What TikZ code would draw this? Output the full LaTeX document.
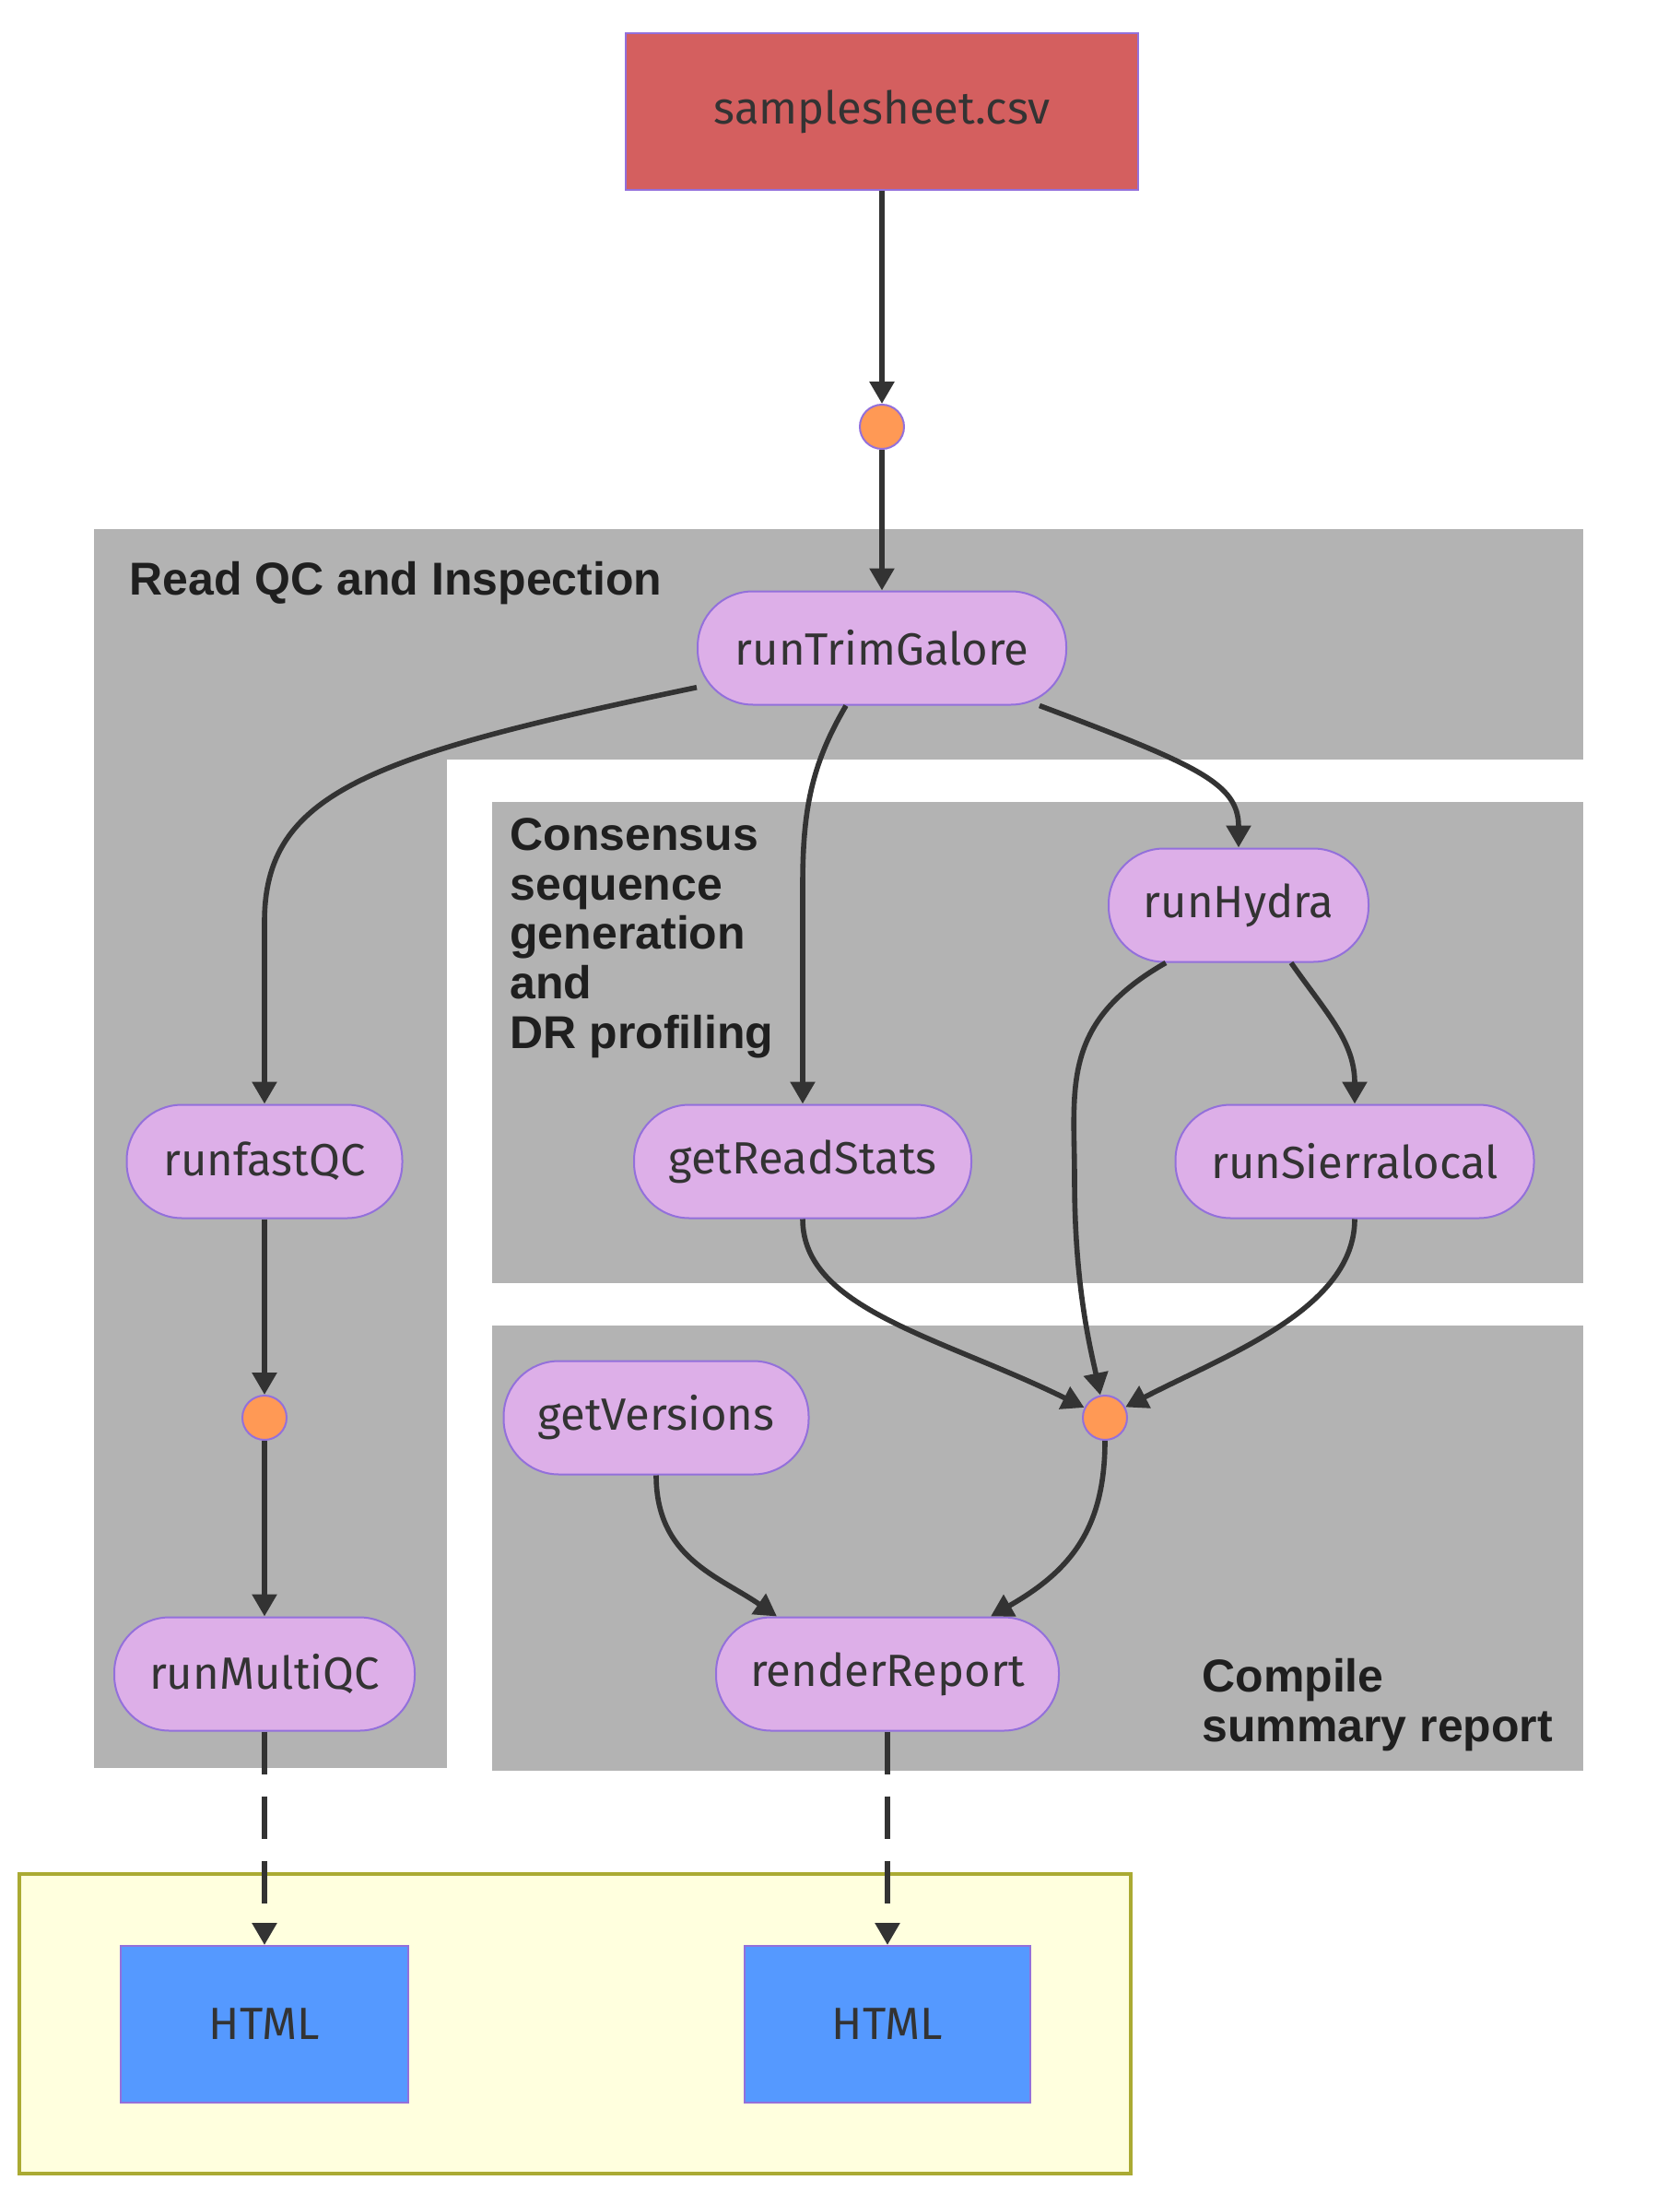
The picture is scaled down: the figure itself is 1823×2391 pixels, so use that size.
\documentclass[tikz,border=0pt]{standalone}
\usepackage{fontspec}
\setmainfont{Fira Sans}
\newfontfamily\boxfont{Liberation Sans}
\usetikzlibrary{arrows.meta}
\definecolor{edgegray}{HTML}{333333}
\definecolor{textgray}{HTML}{333333}
\definecolor{labelgray}{HTML}{1F1F1F}
\definecolor{nodeborder}{HTML}{9370DB}
\definecolor{procfill}{HTML}{DDAFE8}
\definecolor{juncfill}{HTML}{FF9955}
\definecolor{inputfill}{HTML}{D45F5F}
\definecolor{htmlfill}{HTML}{5599FF}
\definecolor{clustergray}{HTML}{B3B3B3}
\definecolor{outfill}{HTML}{FFFFDE}
\definecolor{outborder}{HTML}{AAAA33}

\begin{document}
\begin{tikzpicture}[x=0.5pt, y=-0.5pt,
	process/.style={rectangle, rounded corners=30pt, draw=nodeborder, line width=1pt, fill=procfill, minimum height=61.5pt, inner sep=0pt, font=\fontsize{24.5}{29}\selectfont, text=textgray},
	junction/.style={circle, draw=nodeborder, line width=1pt, fill=juncfill, minimum size=24pt, inner sep=0pt},
	databox/.style={rectangle, draw=nodeborder, line width=1pt, minimum height=85pt, inner sep=0pt, font=\fontsize{24.5}{29}\selectfont, text=textgray},
	flow/.style={draw=edgegray, line width=2.8pt, -{Triangle[length=12pt,width=13pt]}},
	outflow/.style={flow, dash pattern=on 23pt off 12pt},
	cluster/.style={fill=clustergray},
	clusterlabel/.style={anchor=base west, inner sep=0pt, align=left, font=\boxfont\bfseries\fontsize{25}{26.8}\selectfont, text=labelgray}]
		\useasboundingbox (0,0) rectangle (1823,2391);
		\fill[cluster] (102,574) rectangle (1718,1918);
		\fill[white] (485,824) rectangle (1718,1918);
		\fill[cluster] (534,870) rectangle (1718,1392);
		\fill[cluster] (534,1438) rectangle (1718,1921);
		\draw[draw=outborder, fill=outfill, line width=2pt] (21,2033) rectangle (1227,2358);
		\node[clusterlabel] at (140,645) (qclabel) {Read QC and Inspection};
		\node[clusterlabel] at (553,1137) (conslabel) {Consensus\\sequence\\generation\\and\\DR profiling};
		\node[clusterlabel] at (1304,1889) (replabel) {Compile\\summary report};
		\node[databox, fill=inputfill, minimum width=278pt] at (957,121) (sheet) {samplesheet.csv};
		\node[junction] at (957,463) (j1) {};
		\node[process, minimum width=200pt] at (957,703) (trim) {runTrimGalore};
		\node[process, minimum width=149.5pt] at (287,1260) (fastqc) {runfastQC};
		\node[process, minimum width=183pt] at (871,1260) (readstats) {getReadStats};
		\node[process, minimum width=141pt] at (1344,982) (hydra) {runHydra};
		\node[process, minimum width=194.5pt] at (1470,1260) (sierra) {runSierralocal};
		\node[process, minimum width=165.5pt] at (712,1538) (versions) {getVersions};
		\node[junction] at (287,1538) (j2) {};
		\node[junction] at (1199,1538) (j3) {};
		\node[process, minimum width=163pt] at (287,1816) (multiqc) {runMultiQC};
		\node[process, minimum width=186pt] at (963,1816) (report) {renderReport};
		\node[databox, fill=htmlfill, minimum width=156pt] at (287,2196) (html1) {HTML};
		\node[databox, fill=htmlfill, minimum width=155pt] at (963,2196) (html2) {HTML};
		\draw[flow] (sheet) -- (j1);
		\draw[flow] (j1) -- (trim);
		\draw[flow] (trim.192) .. controls (400,820) and (287,860) .. (287,1000) -- (fastqc);
		\draw[flow] ([xshift=-19.5pt]trim.south) .. controls (880,830) and (871,880) .. (871,960) -- (readstats);
		\draw[flow] ([xshift=85.5pt]trim.south) .. controls (1300,830) and (1344,850) .. (hydra);
		\draw[flow] ([xshift=-39.5pt]hydra.south) .. controls (1150,1110) and (1166,1180) .. (1166,1280) .. controls (1166,1400) and (1185,1470) .. (j3);
		\draw[flow] ([xshift=28.5pt]hydra.south) .. controls (1440,1100) and (1470,1130) .. (sierra);
		\draw[flow] (readstats) .. controls (871,1420) and (1020,1450) .. (j3);
		\draw[flow] (sierra) .. controls (1470,1420) and (1330,1470) .. (j3);
		\draw[flow] (j3) .. controls (1199,1660) and (1160,1705) .. ([xshift=56pt]report.north);
		\draw[flow] (versions) .. controls (712,1690) and (780,1710) .. ([xshift=-60pt]report.north);
		\draw[flow] (fastqc) -- (j2);
		\draw[flow] (j2) -- (multiqc);
		\draw[outflow] (multiqc) -- (html1);
		\draw[outflow] (report) -- (html2);
	\end{tikzpicture}
\end{document}
